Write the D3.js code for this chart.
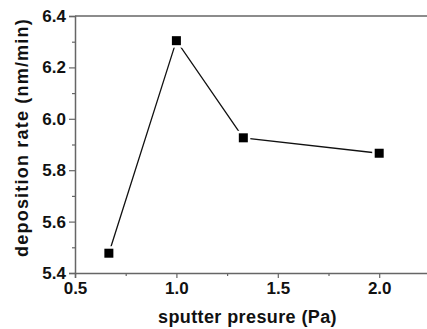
<!DOCTYPE html>
<html>
<head>
<meta charset="utf-8">
<script src="https://cdn.jsdelivr.net/npm/d3@7"></script>
<style>
  html, body { margin: 0; padding: 0; background: #fff; }
  svg { display: block; }
  text { font-family: "Liberation Sans", Arial, sans-serif; font-weight: bold; fill: #111; }
</style>
</head>
<body>
<svg id="svg" width="427" height="329"></svg>
<script>
// data
var pressure = [0.667, 1.0, 1.33, 2.0];
var rate = [5.477, 6.304, 5.926, 5.866];
var xTicks = [0.5, 1.0, 1.5, 2.0];
var xMinor = [0.75, 1.25, 1.75, 2.25];
var yTicks = [5.4, 5.6, 5.8, 6.0, 6.2, 6.4];
var yMinor = [5.5, 5.7, 5.9, 6.1, 6.3];

var svg = d3.select("#svg");

// plot area (right side is cut off in the original)
var plotLeft = 75, plotTop = 16, plotBottom = 273;
var x = d3.scaleLinear().domain([0.5, 2.3]).range([plotLeft, plotLeft + 1.8 * 202.8]);
var y = d3.scaleLinear().domain([5.4, 6.4]).range([plotBottom, plotTop]);

var axisColor = "#666";

// frame: top line
svg.append("line")
  .attr("x1", plotLeft).attr("x2", 427)
  .attr("y1", plotTop).attr("y2", plotTop)
  .attr("stroke", axisColor).attr("stroke-width", 1.5);

// x axis
var gx = svg.append("g").attr("transform", "translate(0," + plotBottom + ")");
gx.call(d3.axisBottom(x).tickValues(xTicks).tickFormat(d3.format(".1f")).tickSize(5).tickPadding(4));
var gxm = svg.append("g").attr("transform", "translate(0," + plotBottom + ")");
gxm.call(d3.axisBottom(x).tickValues(xMinor).tickFormat("").tickSize(3));
gxm.select(".domain").remove();

// y axis
var gy = svg.append("g").attr("transform", "translate(" + plotLeft + ",0)");
gy.call(d3.axisLeft(y).tickValues(yTicks).tickFormat(d3.format(".1f")).tickSize(6).tickPadding(3));
var gym = svg.append("g").attr("transform", "translate(" + plotLeft + ",0)");
gym.call(d3.axisLeft(y).tickValues(yMinor).tickFormat("").tickSize(3));
gym.select(".domain").remove();

svg.selectAll(".domain").attr("stroke", axisColor).attr("stroke-width", 1.5);
svg.selectAll(".tick line").attr("stroke", axisColor).attr("stroke-width", 1.2);
svg.selectAll(".tick text")
  .attr("font-size", 17)
  .attr("font-family", "Liberation Sans, Arial, sans-serif")
  .attr("font-weight", "bold")
  .attr("fill", "#111");

// axis titles
svg.append("text")
  .attr("x", 247.5).attr("y", 323)
  .attr("text-anchor", "middle")
  .attr("font-size", 18)
  .attr("letter-spacing", 0.4)
  .text("sputter presure (Pa)");

svg.append("text")
  .attr("transform", "translate(28,137.5) rotate(-90)")
  .attr("text-anchor", "middle")
  .attr("font-size", 18)
  .attr("letter-spacing", 1.2)
  .text("deposition rate (nm/min)");

// line + markers
var pts = pressure.map(function(p, i){ return [x(p), y(rate[i])]; });

svg.append("path")
  .datum(pts)
  .attr("d", d3.line())
  .attr("fill", "none")
  .attr("stroke", "#111")
  .attr("stroke-width", 1.3);

var ms = 9;
svg.selectAll("rect.halo")
  .data(pts).enter().append("rect")
  .attr("class", "halo")
  .attr("x", function(d){ return d[0] - ms / 2 - 2.5; })
  .attr("y", function(d){ return d[1] - ms / 2 - 2.5; })
  .attr("width", ms + 5).attr("height", ms + 5)
  .attr("fill", "#fff");

svg.selectAll("rect.mark")
  .data(pts).enter().append("rect")
  .attr("class", "mark")
  .attr("x", function(d){ return d[0] - ms / 2; })
  .attr("y", function(d){ return d[1] - ms / 2; })
  .attr("width", ms).attr("height", ms)
  .attr("fill", "#000");
</script>
</body>
</html>
